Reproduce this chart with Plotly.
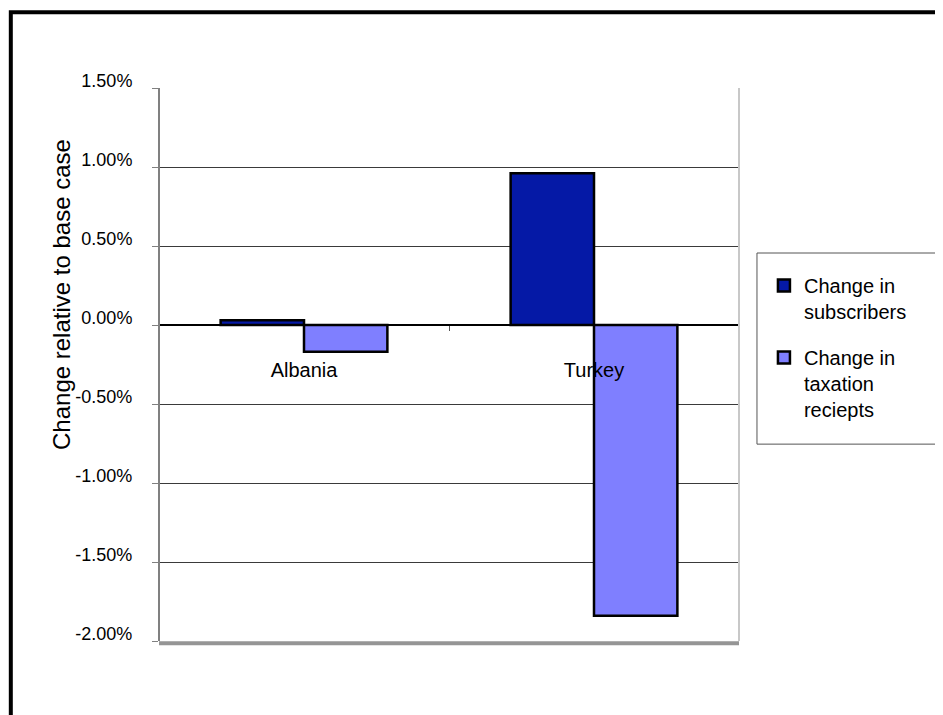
import plotly.graph_objects as go

# values (percent change relative to base case)
countries = ["Albania", "Turkey"]
subscribers = [0.03, 0.96]
taxation = [-0.17, -1.84]
series_names = ["Change in<br>subscribers", "Change in<br>taxation<br>reciepts"]

y_ticks = [1.5, 1.0, 0.5, 0.0, -0.5, -1.0, -1.5, -2.0]
y_labels = ["%.2f%%" % v for v in y_ticks]
y_min, y_max = -2.0, 1.5

dark_blue = "#0519A6"
light_blue = "#7F7FFF"
font_name = "Liberation Sans, Arial, sans-serif"

fig = go.Figure()
fig.add_trace(go.Bar(
    name=series_names[0], x=countries, y=subscribers, legendgroup="a",
    marker=dict(color=dark_blue, line=dict(color="black", width=2.5))))
fig.add_trace(go.Bar(
    name=series_names[1], x=countries, y=taxation, legendgroup="b",
    marker=dict(color=light_blue, line=dict(color="black", width=2.5))))

# plot area edges: grey left, light right, thick grey bottom
fig.add_shape(type="line", xref="x domain", yref="y domain", x0=0, x1=0, y0=0, y1=1,
              line=dict(color="#808080", width=2))
fig.add_shape(type="line", xref="x domain", yref="y domain", x0=1, x1=1, y0=0, y1=1,
              line=dict(color="#C8C8C8", width=2))
fig.add_shape(type="line", xref="x domain", yref="y domain", x0=0, x1=1, y0=-0.004, y1=-0.004,
              line=dict(color="#959595", width=4))

# legend box
fig.add_shape(type="rect", xref="paper", yref="paper",
              x0=1.031, x1=1.343, y0=0.356, y1=0.7016,
              line=dict(color="#555555", width=1), fillcolor="white", layer="below")

# outer black frame (runs off the right and bottom of the picture)
fig.add_shape(type="rect", xref="paper", yref="paper",
              x0=-0.2555, x1=1.37, y0=-0.17, y1=1.137,
              line=dict(color="black", width=4))

fig.add_annotation(text="Change relative to base case", textangle=-90,
                   xref="paper", yref="paper", x=-0.167, y=0.626,
                   xanchor="center", yanchor="middle",
                   showarrow=False, font=dict(family=font_name, size=24, color="black"))

fig.update_layout(
    width=935, height=707,
    margin=dict(l=151, r=204, t=80, b=74),
    paper_bgcolor="white", plot_bgcolor="white",
    barmode="group", bargap=0.425, bargroupgap=0,
    font=dict(family=font_name, size=20, color="black"),
    showlegend=True,
    legend=dict(x=1.043, y=0.678, xanchor="left", yanchor="top",
                bgcolor="rgba(0,0,0,0)", borderwidth=0, valign="top",
                tracegroupgap=17, itemwidth=30,
                font=dict(family=font_name, size=20, color="black")),
)

fig.update_yaxes(
    range=[y_min, y_max], tickvals=y_ticks, ticktext=y_labels,
    showgrid=True, gridcolor="#3A3A3A", gridwidth=1,
    zeroline=False, showline=False,
    ticks="outside", ticklen=6, tickcolor="#808080", tickwidth=1,
    ticklabelstandoff=16, ticklabelshift=-7,
    tickfont=dict(family=font_name, size=18),
)

fig.update_xaxes(
    anchor="free", position=(0 - y_min) / (y_max - y_min),
    showline=True, linecolor="black", linewidth=2,
    ticks="outside", tickson="boundaries", ticklen=5, tickcolor="#555555",
    showgrid=False, ticklabelstandoff=27,
    tickfont=dict(family=font_name, size=20),
)

fig.write_html("out.html")
